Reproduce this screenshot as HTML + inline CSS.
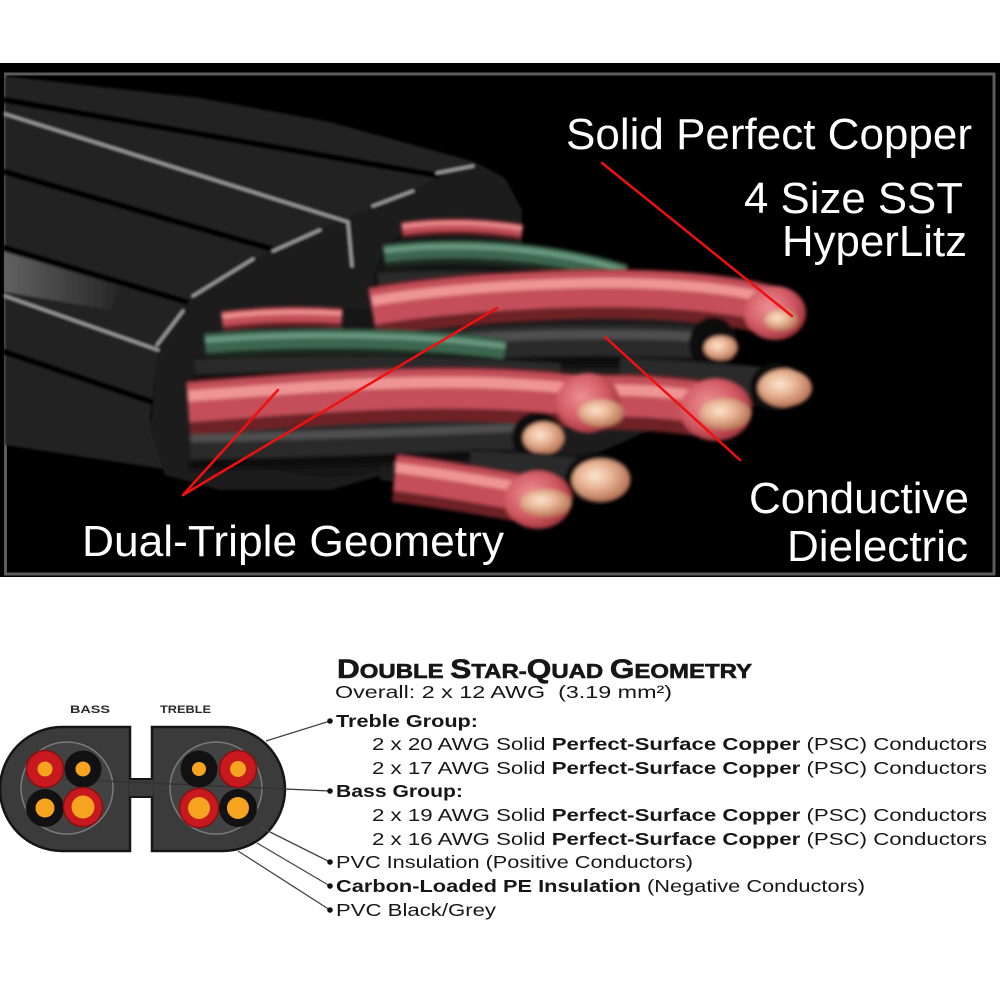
<!DOCTYPE html>
<html><head><meta charset="utf-8">
<style>
html,body{margin:0;padding:0;background:#fff;}
svg{display:block;}
</style></head><body>
<svg width="1000" height="1000" viewBox="0 0 1000 1000" xmlns="http://www.w3.org/2000/svg">
<defs>
 <filter id="soft" x="-5%" y="-5%" width="110%" height="110%"><feGaussianBlur stdDeviation="1.3"/></filter>
 <filter id="soft2" x="-5%" y="-5%" width="110%" height="110%"><feGaussianBlur stdDeviation="1.8"/></filter>
 <radialGradient id="cu" cx="0.4" cy="0.4" r="0.65">
   <stop offset="0" stop-color="#fbe6d0"/>
   <stop offset="0.45" stop-color="#e8b394"/>
   <stop offset="1" stop-color="#b06c50"/>
 </radialGradient>
 <radialGradient id="redtip" cx="0.4" cy="0.4" r="0.65">
   <stop offset="0" stop-color="#ee9096"/>
   <stop offset="0.6" stop-color="#d25a64"/>
   <stop offset="1" stop-color="#9a3038"/>
 </radialGradient>
 <linearGradient id="jhl" x1="0" y1="0" x2="1" y2="0">
   <stop offset="0" stop-color="#707070"/><stop offset="1" stop-color="#262626"/>
 </linearGradient>
</defs>

<rect width="1000" height="1000" fill="#fff"/>
<!-- top photo panel -->
<rect x="0" y="63" width="1000" height="514" fill="#000"/>
<rect x="5.5" y="74" width="988.5" height="500" fill="none" stroke="#5c5c5c" stroke-width="3"/>

<!-- jacket -->
<g filter="url(#soft)">
 <polygon points="5,76 200,98 330,122 475,162 400,195 320,230 250,262 190,300 160,345 150,420 170,470 5,445" fill="#242424"/>
 <polygon points="5,252 120,286 110,310 5,292" fill="url(#jhl)" opacity="0.8"/>
 <g stroke="#060606" stroke-width="6" fill="none" stroke-linecap="round">
  <line x1="5" y1="100" x2="440" y2="176"/>
  <line x1="5" y1="172" x2="275" y2="250"/>
  <line x1="5" y1="248" x2="190" y2="303"/>
  <line x1="5" y1="352" x2="152" y2="402"/>
 </g>
 <polygon points="475,162 505,178 522,210 522,260 500,310 420,340 400,470 330,490 220,490 165,475 150,430 160,345 190,300 250,262 320,230 400,195" fill="#1c1c1c"/>
 <g stroke="#9c9c9c" stroke-width="3" fill="none" stroke-linecap="round">
  <polyline points="5,114 348,222 352,266"/>
  <line x1="5" y1="296" x2="158" y2="350"/>
  <line x1="437" y1="173" x2="473" y2="166"/>
  <line x1="373" y1="206" x2="413" y2="191"/>
  <line x1="273" y1="251" x2="320" y2="230"/>
  <line x1="193" y1="296" x2="253" y2="259"/>
  <line x1="157" y1="345" x2="183" y2="311"/>
 </g>
 <ellipse cx="455" cy="285" rx="82" ry="68" fill="#121212"/>
 <ellipse cx="330" cy="392" rx="138" ry="85" fill="#121212"/>
 <polygon points="380,300 600,290 700,320 720,380 650,430 560,470 480,495 380,480" fill="#1a1a1a"/>
</g>

<!-- wires -->
<g filter="url(#soft2)" fill="none" stroke-linecap="butt">
 <!-- upper bundle -->
 <g><path d="M402 230 Q460 222 522 232" stroke="#6e2228" stroke-width="16"/>
  <path d="M402 230 Q460 222 522 232" stroke="#c4505a" stroke-width="11.5" transform="translate(0,-1.6)"/>
  <path d="M402 230 Q460 222 522 232" stroke="#ef9494" stroke-width="3.2" transform="translate(0,-3.5)"/></g>
 <g><path d="M384 256 C450 248 540 250 625 276" stroke="#1c2c22" stroke-width="24"/>
  <path d="M384 256 C450 248 540 250 625 276" stroke="#3d6650" stroke-width="17" transform="translate(0,-2.4)"/>
  <path d="M384 256 C450 248 540 250 625 276" stroke="#6a9a80" stroke-width="5" transform="translate(0,-5.3)"/></g>
 <g><path d="M378 281 C460 277 540 281 610 292" stroke="#0c0c0c" stroke-width="18"/>
  <path d="M378 281 C460 277 540 281 610 292" stroke="#2a2a2a" stroke-width="13" transform="translate(0,-1.8)"/></g>
 <g><path d="M360 345 L440 347" stroke="#1c2c22" stroke-width="16"/>
  <path d="M360 345 L440 347" stroke="#3d6650" stroke-width="11" transform="translate(0,-1.6)"/></g>
 <g><path d="M430 350 C520 344 620 342 705 347" stroke="#0c0c0c" stroke-width="44"/>
  <path d="M430 350 C520 344 620 342 705 347" stroke="#2c2c2c" stroke-width="32" transform="translate(0,-4.4)"/>
  <path d="M430 350 C520 344 620 342 705 347" stroke="#505050" stroke-width="9" transform="translate(0,-9.7)"/></g>
 <g><path d="M372 312 C450 298 600 288 700 298 C740 302 765 308 778 313" stroke="#6e2228" stroke-width="50"/>
  <path d="M372 312 C450 298 600 288 700 298 C740 302 765 308 778 313" stroke="#c4505a" stroke-width="36" transform="translate(0,-5)"/>
  <path d="M372 312 C450 298 600 288 700 298 C740 302 765 308 778 313" stroke="#ef9494" stroke-width="10" transform="translate(0,-11)"/></g>
 <ellipse cx="713" cy="344" rx="24" ry="27" fill="#111"/>
 <ellipse cx="721" cy="348" rx="17" ry="12" fill="url(#cu)"/>
 <ellipse cx="775" cy="313" rx="31" ry="27" fill="url(#redtip)"/>
 <ellipse cx="781" cy="320" rx="17" ry="11" fill="url(#cu)"/>
 <g><path d="M620 376 C680 379 730 383 768 387" stroke="#0c0c0c" stroke-width="40"/>
  <path d="M620 376 C680 379 730 383 768 387" stroke="#2c2c2c" stroke-width="29" transform="translate(0,-4)"/></g>
 <ellipse cx="776" cy="387" rx="26" ry="24" fill="#111"/>
 <ellipse cx="785" cy="388" rx="27" ry="19" fill="url(#cu)"/>
 <g><path d="M598 402 C640 401 680 405 712 410" stroke="#6e2228" stroke-width="56"/>
  <path d="M598 402 C640 401 680 405 712 410" stroke="#c4505a" stroke-width="40" transform="translate(0,-5.6)"/>
  <path d="M598 402 C640 401 680 405 712 410" stroke="#ef9494" stroke-width="11" transform="translate(0,-12)"/></g>
 <ellipse cx="716" cy="410" rx="36" ry="31" fill="url(#redtip)"/>
 <ellipse cx="725" cy="414" rx="26" ry="16" fill="url(#cu)"/>

 <!-- lower bundle -->
 <g><path d="M222 321 Q280 314 342 318" stroke="#6e2228" stroke-width="20"/>
  <path d="M222 321 Q280 314 342 318" stroke="#c4505a" stroke-width="14" transform="translate(0,-2)"/>
  <path d="M222 321 Q280 314 342 318" stroke="#ef9494" stroke-width="4" transform="translate(0,-4.4)"/></g>
 <g><path d="M205 346 C300 338 420 340 505 352" stroke="#1c2c22" stroke-width="26"/>
  <path d="M205 346 C300 338 420 340 505 352" stroke="#3d6650" stroke-width="19" transform="translate(0,-2.6)"/>
  <path d="M205 346 C300 338 420 340 505 352" stroke="#6a9a80" stroke-width="5" transform="translate(0,-5.7)"/></g>
 <g><path d="M195 369 C300 364 420 364 560 373" stroke="#0c0c0c" stroke-width="22"/>
  <path d="M195 369 C300 364 420 364 560 373" stroke="#2c2c2c" stroke-width="15" transform="translate(0,-2)"/></g>
 <g><path d="M190 448 C300 446 420 441 530 437" stroke="#0c0c0c" stroke-width="44"/>
  <path d="M190 448 C300 446 420 441 530 437" stroke="#2c2c2c" stroke-width="32" transform="translate(0,-4.4)"/>
  <path d="M190 448 C300 446 420 441 530 437" stroke="#505050" stroke-width="8" transform="translate(0,-9.7)"/></g>
 <g><path d="M188 408 C300 400 450 385 585 402" stroke="#6e2228" stroke-width="54"/>
  <path d="M188 408 C300 400 450 385 585 402" stroke="#c4505a" stroke-width="39" transform="translate(0,-5.4)"/>
  <path d="M188 408 C300 400 450 385 585 402" stroke="#ef9494" stroke-width="11" transform="translate(0,-12)"/></g>
 <ellipse cx="588" cy="403" rx="32" ry="30" fill="url(#redtip)"/>
 <ellipse cx="601" cy="413" rx="23" ry="14" fill="url(#cu)"/>
 <ellipse cx="538" cy="437" rx="26" ry="25" fill="#111"/>
 <ellipse cx="544" cy="438" rx="21" ry="16" fill="url(#cu)"/>
 <g><path d="M470 470 C530 472 570 476 592 479" stroke="#0c0c0c" stroke-width="42"/>
  <path d="M470 470 C530 472 570 476 592 479" stroke="#2c2c2c" stroke-width="30" transform="translate(0,-4)"/></g>
 <ellipse cx="598" cy="479" rx="33" ry="26" fill="#111"/>
 <ellipse cx="601" cy="480" rx="29" ry="21" fill="url(#cu)"/>
 <g><path d="M395 478 C450 485 500 494 532 500" stroke="#6e2228" stroke-width="48"/>
  <path d="M395 478 C450 485 500 494 532 500" stroke="#c4505a" stroke-width="35" transform="translate(0,-4.8)"/>
  <path d="M395 478 C450 485 500 494 532 500" stroke="#ef9494" stroke-width="10" transform="translate(0,-10.5)"/></g>
 <ellipse cx="538" cy="500" rx="34" ry="29" fill="url(#redtip)"/>
 <ellipse cx="546" cy="503" rx="26" ry="14" fill="url(#cu)"/>
</g>

<!-- red leader lines -->
<g stroke="#f01010" stroke-width="2.5" stroke-linecap="round">
 <line x1="183" y1="495" x2="278" y2="390"/>
 <line x1="183" y1="495" x2="497" y2="308"/>
 <line x1="602" y1="163" x2="792" y2="316"/>
 <line x1="605" y1="337" x2="740" y2="460"/>
</g>

<!-- panel text -->
<g fill="#fff" font-family="'Liberation Sans', Arial, sans-serif" font-size="44" lengthAdjust="spacingAndGlyphs">
 <text x="566" y="149" textLength="406" lengthAdjust="spacingAndGlyphs">Solid Perfect Copper</text>
 <text x="744" y="213" textLength="219" lengthAdjust="spacingAndGlyphs">4 Size SST</text>
 <text x="782" y="256" textLength="185" lengthAdjust="spacingAndGlyphs">HyperLitz</text>
 <text x="749" y="513" textLength="220" lengthAdjust="spacingAndGlyphs">Conductive</text>
 <text x="787" y="561" textLength="181" lengthAdjust="spacingAndGlyphs">Dielectric</text>
 <text x="82" y="556" textLength="422" lengthAdjust="spacingAndGlyphs">Dual-Triple Geometry</text>
</g>

<!-- cross-section diagram -->
<g>
 <path d="M130,727 L62,727 A62,62 0 0 0 62,851 L130,851 Z" fill="#3b3b3b" stroke="#151515" stroke-width="2.5"/>
 <path d="M152,727 L223,727 A62,62 0 0 1 223,851 L152,851 Z" fill="#3b3b3b" stroke="#151515" stroke-width="2.5"/>
 <rect x="129" y="779" width="24" height="18" fill="#3b3b3b"/>
 <line x1="129" y1="779" x2="153" y2="779" stroke="#151515" stroke-width="2"/>
 <line x1="129" y1="797" x2="153" y2="797" stroke="#151515" stroke-width="2"/>
 <circle cx="67" cy="788" r="46" fill="#424242" stroke="#7a7a7a" stroke-width="1.5"/>
 <circle cx="216" cy="788" r="46" fill="#424242" stroke="#7a7a7a" stroke-width="1.5"/>

 <line x1="58" y1="779" x2="330" y2="791" stroke="#333" stroke-width="1.3"/>

 <!-- bass -->
 <circle cx="45" cy="769" r="18.5" fill="#c81a1e" stroke="#8a0e12" stroke-width="1.5"/>
 <circle cx="45" cy="769" r="7.5" fill="#f6a41f"/>
 <circle cx="83" cy="769" r="18.5" fill="#111"/>
 <circle cx="83" cy="769" r="7.5" fill="#f6a41f"/>
 <circle cx="45" cy="808" r="19" fill="#111"/>
 <circle cx="45" cy="808" r="9.5" fill="#f6a41f"/>
 <circle cx="83" cy="807" r="19.5" fill="#c81a1e" stroke="#8a0e12" stroke-width="1.5"/>
 <circle cx="83" cy="807" r="11.5" fill="#f6a41f"/>
 <!-- treble -->
 <circle cx="199" cy="769" r="18.5" fill="#111"/>
 <circle cx="199" cy="769" r="7" fill="#f6a41f"/>
 <circle cx="238" cy="769" r="18.5" fill="#c81a1e" stroke="#8a0e12" stroke-width="1.5"/>
 <circle cx="238" cy="769" r="8" fill="#f6a41f"/>
 <circle cx="199" cy="808" r="19.5" fill="#c81a1e" stroke="#8a0e12" stroke-width="1.5"/>
 <circle cx="199" cy="808" r="11" fill="#f6a41f"/>
 <circle cx="238" cy="808" r="19" fill="#111"/>
 <circle cx="238" cy="808" r="11" fill="#f6a41f"/>

 <g stroke="#444" stroke-width="1.3">
  <line x1="266" y1="741" x2="330" y2="721"/>
  <line x1="260" y1="827" x2="330" y2="862"/>
  <line x1="257" y1="843" x2="330" y2="886"/>
  <line x1="238" y1="851" x2="330" y2="910"/>
 </g>
 <g fill="#111">
  <circle cx="330" cy="721" r="2.8"/>
  <circle cx="330" cy="791" r="2.8"/>
  <circle cx="330" cy="862" r="2.8"/>
  <circle cx="330" cy="886" r="2.8"/>
  <circle cx="330" cy="910" r="2.8"/>
 </g>
 <g font-family="'Liberation Sans', Arial, sans-serif" font-weight="bold" font-size="11" fill="#2a2a2a">
  <text x="70" y="713" textLength="40" lengthAdjust="spacingAndGlyphs">BASS</text>
  <text x="160" y="713" textLength="51" lengthAdjust="spacingAndGlyphs">TREBLE</text>
 </g>
</g>

<!-- spec text -->
<g font-family="'Liberation Sans', Arial, sans-serif" fill="#161616">
 <text x="337" y="678" font-weight="bold" stroke="#161616" stroke-width="0.6" textLength="415" lengthAdjust="spacingAndGlyphs"><tspan font-size="27">D</tspan><tspan font-size="20.5">OUBLE </tspan><tspan font-size="27">S</tspan><tspan font-size="20.5">TAR-</tspan><tspan font-size="27">Q</tspan><tspan font-size="20.5">UAD </tspan><tspan font-size="27">G</tspan><tspan font-size="20.5">EOMETRY</tspan></text>
 <g font-size="17.5">
  <text x="335" y="698" textLength="337" lengthAdjust="spacingAndGlyphs">Overall: 2 x 12 AWG&#160;&#160;(3.19 mm²)</text>
  <text x="336" y="727" font-weight="bold" textLength="142" lengthAdjust="spacingAndGlyphs">Treble Group:</text>
  <text x="372" y="750" textLength="615" lengthAdjust="spacingAndGlyphs">2 x 20 AWG Solid <tspan font-weight="bold">Perfect-Surface Copper</tspan> (PSC) Conductors</text>
  <text x="372" y="774" textLength="615" lengthAdjust="spacingAndGlyphs">2 x 17 AWG Solid <tspan font-weight="bold">Perfect-Surface Copper</tspan> (PSC) Conductors</text>
  <text x="336" y="797" font-weight="bold" textLength="127" lengthAdjust="spacingAndGlyphs">Bass Group:</text>
  <text x="372" y="821" textLength="615" lengthAdjust="spacingAndGlyphs">2 x 19 AWG Solid <tspan font-weight="bold">Perfect-Surface Copper</tspan> (PSC) Conductors</text>
  <text x="372" y="845" textLength="615" lengthAdjust="spacingAndGlyphs">2 x 16 AWG Solid <tspan font-weight="bold">Perfect-Surface Copper</tspan> (PSC) Conductors</text>
  <text x="336" y="868" textLength="357" lengthAdjust="spacingAndGlyphs">PVC Insulation (Positive Conductors)</text>
  <text x="336" y="892" textLength="529" lengthAdjust="spacingAndGlyphs"><tspan font-weight="bold">Carbon-Loaded PE Insulation</tspan> (Negative Conductors)</text>
  <text x="336" y="916" textLength="160" lengthAdjust="spacingAndGlyphs">PVC Black/Grey</text>
 </g>
</g>
</svg>
</body></html>
